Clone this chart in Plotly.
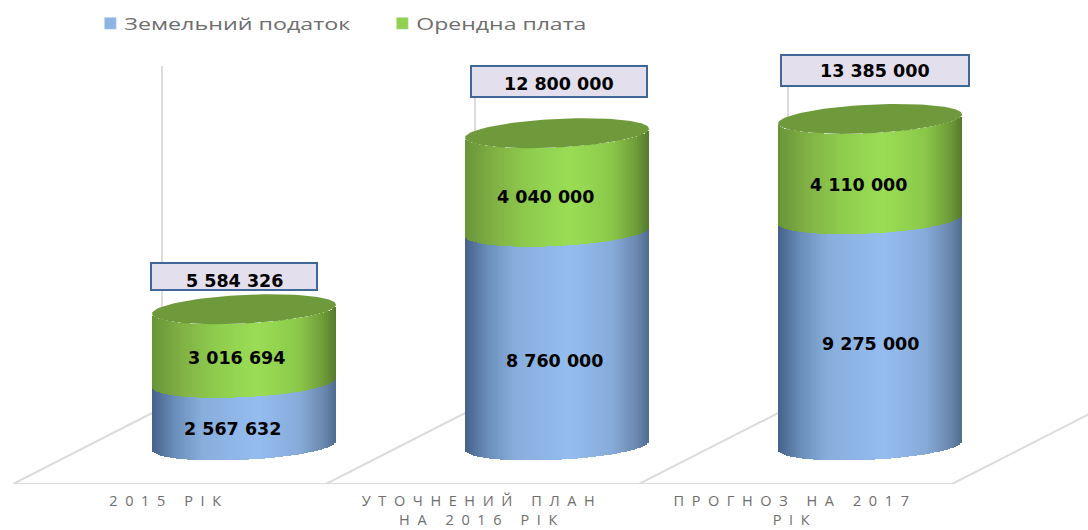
import numpy as np
import plotly.graph_objects as go

categories = ["2015 РІК", "УТОЧНЕНИЙ ПЛАН<br>НА 2016 РІК", "ПРОГНОЗ НА 2017<br>РІК"]
land_tax = [2567632, 8760000, 9275000]
rent = [3016694, 4040000, 4110000]
totals = [5584326, 12800000, 13385000]
series_names = ["Земельний податок", "Орендна плата"]

# styling / geometry constants
PX_PER_VAL = 24.4e-6
BOTTOM_PX = 445.5
FLOOR_PX = 484
X0_PX, STEP_PX = 244, 313
R = 92 / STEP_PX
SKEW = 4.5 / PX_PER_VAL
MINOR = 14.3 / PX_PER_VAL
N_STRIPS = 93

BLUE_STOPS = [(-1, (69, 98, 138)), (-0.75, (108, 143, 187)), (-0.45, (136, 174, 220)), (0.15, (149, 189, 240)),
              (0.6, (136, 172, 218)), (0.87, (106, 136, 174)), (1, (79, 109, 144))]
GREEN_STOPS = [(-1, (104, 148, 56)), (-0.7, (128, 176, 68)), (-0.3, (143, 205, 78)), (0.15, (154, 222, 85)),
               (0.6, (140, 200, 74)), (0.87, (110, 155, 57)), (1, (85, 122, 43))]
CAP = "#6f9a3c"
GRID = "#dcdcdc"
TXT = "#6e6e6e"


def ramp(stops, u):
    xs = [s[0] for s in stops]
    return "rgb(%d,%d,%d)" % tuple(np.interp(u, xs, [s[1][k] for s in stops]) for k in range(3))


def px_val(p):
    return (BOTTOM_PX - p) / PX_PER_VAL


fig = go.Figure()

edges = np.linspace(-1, 1, N_STRIPS + 1)
mids = (edges[:-1] + edges[1:]) / 2
strip_w = (edges[1] - edges[0]) * R


def strips(bases, heights, stops, name):
    xs, b, h, c = [], [], [], []
    for i in range(len(bases)):
        for u in mids:
            off = SKEW * u - MINOR * np.sqrt(1 - u * u)
            xs.append(i + u * R)
            b.append(bases[i] + off)
            h.append(heights[i])
            c.append(ramp(stops, u))
    fig.add_trace(go.Bar(x=xs, y=h, base=b, width=strip_w * 1.15, marker=dict(color=c, line=dict(width=0)),
                         showlegend=False, hoverinfo="skip", name=name))


strips([0, 0, 0], land_tax, BLUE_STOPS, series_names[0])
strips(land_tax, rent, GREEN_STOPS, series_names[1])

# top caps
t = np.linspace(0, 2 * np.pi, 121)
for i, tot in enumerate(totals):
    fig.add_trace(go.Scatter(x=i + R * np.cos(t), y=tot + SKEW * np.cos(t) + MINOR * np.sin(t), mode="lines",
                             fill="toself", fillcolor=CAP, line=dict(width=0), showlegend=False, hoverinfo="skip"))

# legend entries
fig.add_trace(go.Bar(x=[None], y=[None], name=series_names[0], marker_color="#8db4e2"))
fig.add_trace(go.Bar(x=[None], y=[None], name=series_names[1], marker_color="#92d050"))

# floor and back wall
shapes = []
FRONT = px_val(FLOOR_PX)
BACK = px_val(408)
TOP = px_val(66)
DX = 149 / STEP_PX
for i in range(4):
    xf = i - 231 / STEP_PX
    shapes.append(dict(type="line", xref="x", yref="y", x0=xf, x1=xf + DX, y0=FRONT, y1=BACK, layer="below",
                       line=dict(color=GRID, width=2)))
    shapes.append(dict(type="line", xref="x", yref="y", x0=xf + DX, x1=xf + DX, y0=BACK, y1=TOP, layer="below",
                       line=dict(color=GRID, width=2)))
shapes.append(dict(type="line", xref="x", yref="y", x0=-231 / STEP_PX, x1=3 - 231 / STEP_PX, y0=FRONT, y1=FRONT,
                   layer="below", line=dict(color=GRID, width=2)))

# value labels
annots = []
LAB = dict(family="DejaVu Sans", size=17.5, color="black", weight="bold")
blue_off = [(-12, -15), (-3, -22), (0, -12)]
green_off = [(-8, -12), (-12, -14.5), (-11.5, -16)]
for i in range(3):
    annots.append(dict(x=i, y=land_tax[i] / 2, text=f"{land_tax[i]:,}".replace(",", " "), showarrow=False, font=LAB,
                       xshift=blue_off[i][0], yshift=blue_off[i][1]))
    annots.append(dict(x=i, y=land_tax[i] + rent[i] / 2, text=f"{rent[i]:,}".replace(",", " "), showarrow=False,
                       font=LAB, xshift=green_off[i][0], yshift=green_off[i][1]))
box_off = [(-10, 32.5), (2, 51.7), (4.5, 48.4)]
box_w = [162, 172, 184]
box_h = [23, 27, 27]
text_off = [(-10, 28), (2, 49), (4.5, 48)]
for i in range(3):
    annots.append(dict(x=i, y=totals[i], text=" ", showarrow=False, font=LAB,
                       xshift=box_off[i][0], yshift=box_off[i][1], bgcolor="#e4dfec", bordercolor="#3f6797",
                       borderwidth=2, width=box_w[i], height=box_h[i]))
    annots.append(dict(x=i, y=totals[i], text=f"{totals[i]:,}".replace(",", " "), showarrow=False, font=LAB,
                       xshift=text_off[i][0], yshift=text_off[i][1]))

fig.update_layout(
    width=1088, height=530, margin=dict(l=0, r=0, t=0, b=530 - FLOOR_PX), barmode="overlay",
    plot_bgcolor="white", paper_bgcolor="white", autosize=False, bargap=0,
    shapes=shapes, annotations=annots,
    legend=dict(orientation="h", x=0.083, xanchor="left", y=0.988, yanchor="top", entrywidth=247, entrywidthmode="pixels",
                font=dict(family="Open Sans", size=17, color=TXT), bgcolor="rgba(0,0,0,0)", itemclick=False,
                itemdoubleclick=False),
    xaxis=dict(range=[-X0_PX / STEP_PX, (1088 - X0_PX) / STEP_PX], showgrid=False, zeroline=False, showline=False,
               automargin=False,
               tickmode="array", tickvals=[i - 75 / STEP_PX for i in range(3)], ticktext=categories, ticks="outside",
               ticklen=4, tickcolor="rgba(0,0,0,0)", tickfont=dict(family="Open Sans", size=14.5, color=TXT), fixedrange=True),
    yaxis=dict(range=[px_val(FLOOR_PX), px_val(0)], visible=False, fixedrange=True, automargin=False),
)

post = """
document.documentElement.style.margin='0';
document.body.style.margin='0';
document.body.style.overflow='hidden';
document.querySelectorAll('.xtick text').forEach(function(t){t.style.letterSpacing='7.6px';});
var lens=[226,170];
document.querySelectorAll('.legendtext').forEach(function(t,i){
  t.setAttribute('x','34');
  t.setAttribute('textLength',lens[i]);
  t.setAttribute('lengthAdjust','spacingAndGlyphs');
});
"""
fig.write_html("out.html", post_script=post, config={"displayModeBar": False})
